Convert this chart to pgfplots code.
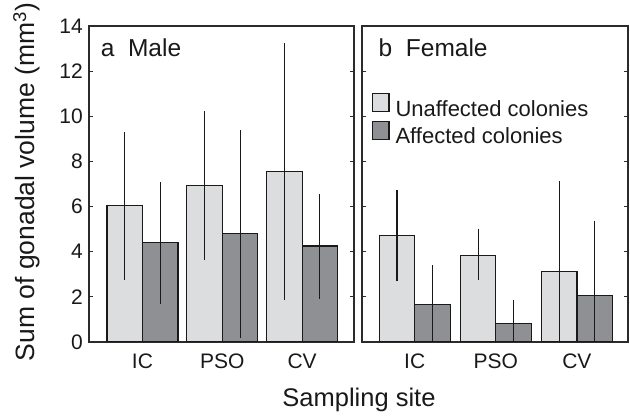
\documentclass[border=0pt]{standalone}
\usepackage{fontspec}
\setmainfont{Liberation Sans}
\usepackage{pgfplots}
\usepackage{pgfplotstable}
\pgfplotsset{compat=1.18}

\definecolor{unaff}{HTML}{DCDDDF}
\definecolor{aff}{HTML}{8F9093}
\definecolor{axline}{HTML}{2B2B2B}

% x = site (0 IC, 1 PSO, 2 CV), y = mean, ep/em = error up/down
\pgfplotstableread{
x y ep em
0 6.03 3.19 3.21
1 6.93 3.20 3.19
2 7.55 5.61 5.59
}\maleU
\pgfplotstableread{
x y ep em
0 4.42 2.59 2.63
1 4.80 4.49 4.53
2 4.25 2.23 2.24
}\maleA
\pgfplotstableread{
x y ep em
0 4.73 1.90 1.94
1 3.85 1.05 1.00
2 3.13 3.90 3.13
}\femU
\pgfplotstableread{
x y ep em
0 1.65 1.66 1.65
1 0.83 0.94 0.83
2 2.07 3.22 2.07
}\femA

\pgfplotsset{
    panel/.style = {
        scale only axis,
        height = 316bp,
        ymin = 0, ymax = 14,
        ytick = {0,2,...,14},
        xtick = {0,1,2},
        xticklabels = {IC,PSO,CV},
        ybar = 0pt,
        bar width = 35.5bp,
        axis line style = {axline, line width=1.1pt},
        ytick style = {axline, line width=0.8pt},
        xtick style = {draw=none},
        major tick length = 4bp,
        ytick pos = both,
        tick align = inside,
        ticklabel style = {font=\fontsize{21bp}{24bp}\selectfont, text=black!90},
        /pgf/number format/assume math mode = true,
        yticklabel style = {anchor=east, inner sep=0pt, xshift=-6bp},
        xticklabel style = {anchor=base, inner sep=0pt, yshift=-26bp},
    },
    bars/.style = {
        draw = black!90, line width = 1.2pt,
        error bars/y dir = both,
        error bars/y explicit,
        error bars/error bar style = {black!90, line width=1.1pt},
        error bars/error mark options = {black!90, mark size=2bp, line width=1.1pt},
    },
}

\begin{document}
\begin{tikzpicture}
    \begin{axis}[panel,
        width = 265bp,
        xmin = -0.67, xmax = 2.65,
    ]
        \addplot [bars, fill=unaff] table [x=x, y=y, y error plus=ep, y error minus=em] {\maleU};
        \addplot [bars, fill=aff] table [x=x, y=y, y error plus=ep, y error minus=em] {\maleA};
        \node [anchor=base west, font=\fontsize{24.5bp}{27bp}\selectfont, text=black!90, inner sep=0pt]
            at (rel axis cs:0.044,0.902) {a\ \ Male};
    \end{axis}
    \begin{axis}[panel,
        at = {(273bp,0)},
        width = 266bp,
        xmin = -0.65, xmax = 2.63,
        yticklabels = {},
        legend style = {
            draw = none, fill = none,
            at = {(rel axis cs:0.036,0.788)}, anchor = north west,
            font = \fontsize{22bp}{25bp}\selectfont, text = black!90,
            inner sep = 0pt, row sep = 1.5bp,
            /tikz/every odd column/.append style = {column sep=4bp},
        },
        legend cell align = left,
        legend image code/.code = {
            \draw [#1, draw=black!90, line width=1.2pt] (0bp,-3bp) rectangle (16.6bp,15bp);
        },
    ]
        \addplot [bars, fill=unaff] table [x=x, y=y, y error plus=ep, y error minus=em] {\femU};
        \addplot [bars, fill=aff] table [x=x, y=y, y error plus=ep, y error minus=em] {\femA};
        \legend{Unaffected colonies, Affected colonies}
        \node [anchor=base west, font=\fontsize{24.5bp}{27bp}\selectfont, text=black!90, inner sep=0pt]
            at (rel axis cs:0.062,0.902) {b\ \ Female};
    \end{axis}
    \node [anchor=base, font=\fontsize{25.5bp}{28bp}\selectfont, text=black!90, inner sep=0pt]
        at (270bp,-64.5bp) {Sampling site};
    \node [anchor=base, rotate=90, font=\fontsize{26.5bp}{29bp}\selectfont, text=black!90, inner sep=0pt]
        at (-54bp,160bp) {Sum of gonadal volume (mm\textsuperscript{3})};
    \pgfresetboundingbox
    \path [use as bounding box] (-89bp,-74bp) rectangle (541bp,342bp);
\end{tikzpicture}
\end{document}
